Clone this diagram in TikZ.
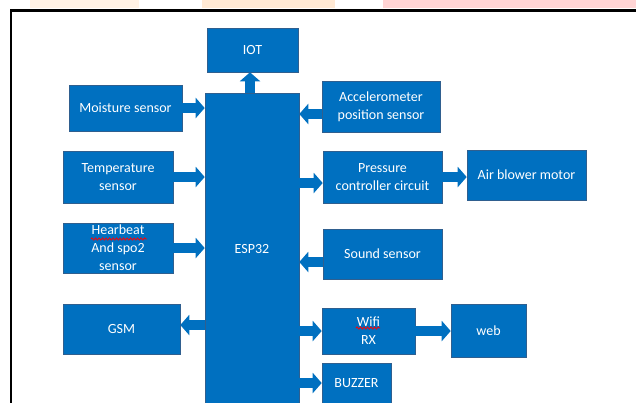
\documentclass[tikz,border=0pt]{standalone}
\usepackage{fontspec}
\setmainfont{Carlito}
\usetikzlibrary{arrows.meta, decorations.pathmorphing}

\definecolor{boxblue}{HTML}{0070C0}
\definecolor{boxedge}{HTML}{2F5F8F}

\tikzset{
blk/.style={draw=boxedge, line width=0.6pt, fill=boxblue, text=white, align=center,
 inner sep=0pt, font=\fontsize{14}{18}\selectfont},
barrow/.style={boxblue, line width=10pt, -{Triangle[length=9pt, width=20pt]}},
squiggle/.style={red, line width=0.8pt, decorate, decoration={snake, amplitude=1.1pt, segment length=3.5pt}}
}

\begin{document}
\begin{tikzpicture}[x=1pt, y=-1pt]

\useasboundingbox (0,0) rectangle (636,402);

% faint marks above the frame
\fill[orange!10] (30,0) rectangle (139,8);
\fill[orange!17] (202,0) rectangle (335,8);
\fill[red!17] (383,0) rectangle (636,8);

% frame
\draw[line width=2.5pt] (11,420) -- (11,10.5) -- (650,10.5);

% blocks
\node[blk, minimum width=94pt, minimum height=311pt] (esp) at (252,248.5) {ESP32};
\node[blk, minimum width=91pt, minimum height=44pt] (iot) at (252.5,50) {IOT};

\node[blk, minimum width=113pt, minimum height=46pt] (moist) at (125.5,108) {Moisture sensor};
\node[blk, minimum width=110pt, minimum height=52pt] (temp) at (118,177) {Temperature\\sensor};
\node[blk, minimum width=110pt, minimum height=50pt] (heart) at (118,248) {Hearbeat\\And spo2\\sensor};
\node[blk, minimum width=117pt, minimum height=50pt] (gsm) at (121.5,329) {GSM};

\node[blk, minimum width=118pt, minimum height=51pt] (acc) at (381,106.5) {Accelerometer\\position sensor};
\node[blk, minimum width=119pt, minimum height=52pt] (press) at (382.5,177) {Pressure\\controller circuit};
\node[blk, minimum width=119pt, minimum height=50pt] (air) at (526.5,175) {Air blower motor};
\node[blk, minimum width=119pt, minimum height=50pt] (sound) at (382.5,254) {Sound sensor};
\node[blk, minimum width=93pt, minimum height=46pt] (wifi) at (368.5,331) {Wif{}i\\RX};
\node[blk, minimum width=75pt, minimum height=53pt] (web) at (488.5,330.5) {web};
\node[blk, minimum width=69pt, minimum height=40pt] (buzz) at (356.5,383) {BUZZER};

% spelling marks
\draw[squiggle] (91,239) -- (147,239);
\draw[squiggle] (356,328) -- (380,328);

% arrows
\draw[barrow] ([xshift=-2pt]esp.north) -- ([xshift=-2pt]esp.north |- iot.south);
\draw[barrow] (moist.east) -- (moist.east -| esp.west);
\draw[barrow] (temp.east) -- (temp.east -| esp.west);
\draw[barrow] (heart.east) -- (heart.east -| esp.west);
\draw[barrow] ([yshift=4pt]gsm.east -| esp.west) -- ([yshift=4pt]gsm.east);

\draw[barrow] ([yshift=-7.5pt]acc.west) -- ([yshift=-7.5pt]acc.west -| esp.east);
\draw[barrow] ([yshift=-6pt]press.west -| esp.east) -- ([yshift=-6pt]press.west);
\draw[barrow] (press.east) -- (press.east -| air.west);
\draw[barrow] ([yshift=-8pt]sound.west) -- ([yshift=-8pt]sound.west -| esp.east);
\draw[barrow] (wifi.west -| esp.east) -- (wifi.west);
\draw[barrow] (wifi.east) -- (wifi.east -| web.west);
\draw[barrow] (buzz.west -| esp.east) -- (buzz.west);

\end{tikzpicture}
\end{document}
